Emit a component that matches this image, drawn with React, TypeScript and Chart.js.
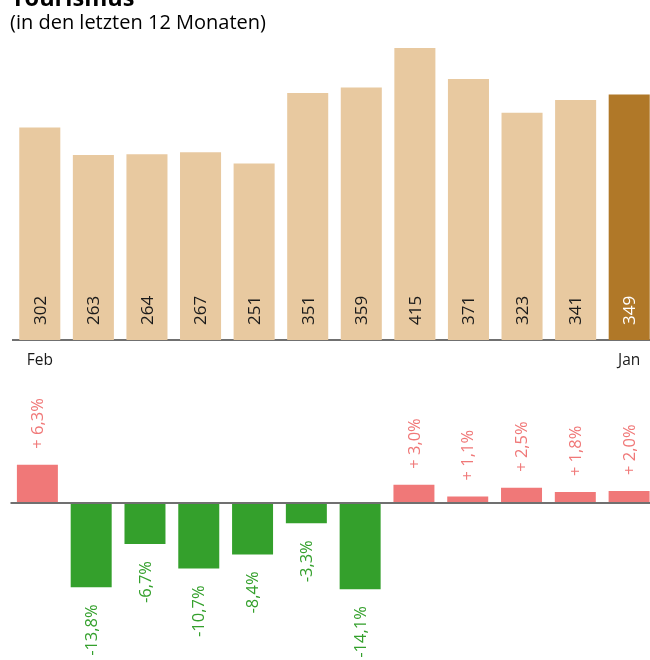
import React, { useEffect, useRef } from "react";
import { Chart, registerables } from "chart.js";

Chart.register(...registerables);

const title = "Tourismus";
const subtitle = "(in den letzten 12 Monaten)";
const months = ["Feb", "Mär", "Apr", "Mai", "Jun", "Jul", "Aug", "Sep", "Okt", "Nov", "Dez", "Jan"];
const visits = [302, 263, 264, 267, 251, 351, 359, 415, 371, 323, 341, 349];
const changes = [6.3, -13.8, -6.7, -10.7, -8.4, -3.3, -14.1, 3.0, 1.1, 2.5, 1.8, 2.0];

const FONT = "'Open Sans', 'DejaVu Sans', sans-serif";
const LIGHT = "#E8C9A0";
const DARK = "#B07828";
const RED = "#F07878";
const GREEN = "#34A02C";
const AXIS = "#707070";

const fmtPct = (v: number) =>
  (v > 0 ? "+ " : "") + v.toFixed(1).replace(".", ",") + "%";

const titlePlugin = {
  id: "titleText",
  afterDraw(chart: any) {
    const ctx = chart.ctx;
    ctx.save();
    ctx.fillStyle = "#000";
    ctx.textAlign = "left";
    ctx.textBaseline = "alphabetic";
    ctx.font = `bold 23.5px ${FONT}`;
    ctx.fillText(title, 11, 6);
    ctx.font = `20px ${FONT}`;
    ctx.fillText(subtitle, 10, 29);
    ctx.restore();
  },
};

const topLabels = {
  id: "topLabels",
  afterDatasetsDraw(chart: any) {
    const ctx = chart.ctx;
    const meta = chart.getDatasetMeta(0);
    ctx.save();
    ctx.font = `17px ${FONT}`;
    ctx.textAlign = "left";
    ctx.textBaseline = "middle";
    meta.data.forEach((bar: any, i: number) => {
      ctx.save();
      ctx.translate(bar.x, bar.base - 15);
      ctx.rotate(-Math.PI / 2);
      ctx.fillStyle = i === visits.length - 1 ? "#ffffff" : "#1a1a1a";
      ctx.fillText(String(visits[i]), 0, 1);
      ctx.restore();
    });
    ctx.restore();
  },
};

const bottomLabels = {
  id: "bottomLabels",
  afterDatasetsDraw(chart: any) {
    const ctx = chart.ctx;
    const meta = chart.getDatasetMeta(0);
    const ys = chart.scales.y;
    const zero = ys.getPixelForValue(0);
    ctx.save();
    ctx.strokeStyle = AXIS;
    ctx.lineWidth = 2;
    ctx.beginPath();
    ctx.moveTo(chart.chartArea.left, zero);
    ctx.lineTo(chart.chartArea.right, zero);
    ctx.stroke();
    ctx.font = `16.5px ${FONT}`;
    ctx.textBaseline = "middle";
    meta.data.forEach((bar: any, i: number) => {
      const v = changes[i];
      ctx.save();
      if (v >= 0) {
        ctx.translate(bar.x, bar.y - 16);
        ctx.rotate(-Math.PI / 2);
        ctx.textAlign = "left";
        ctx.fillStyle = RED;
      } else {
        ctx.translate(bar.x, bar.y + 17);
        ctx.rotate(-Math.PI / 2);
        ctx.textAlign = "right";
        ctx.fillStyle = GREEN;
      }
      ctx.fillText(fmtPct(v), 0, 1);
      ctx.restore();
    });
    ctx.restore();
  },
};

export default function App() {
  const topRef = useRef<HTMLCanvasElement>(null);
  const botRef = useRef<HTMLCanvasElement>(null);

  useEffect(() => {
    const c1 = new Chart(topRef.current!, {
      type: "bar",
      data: {
        labels: months,
        datasets: [
          {
            data: visits,
            backgroundColor: visits.map((_, i) => (i === visits.length - 1 ? DARK : LIGHT)),
            barPercentage: 0.766,
            categoryPercentage: 1,
          },
        ],
      },
      options: {
        animation: false,
        responsive: false,
        maintainAspectRatio: false,
        layout: { padding: { top: 48, left: 13, right: 0, bottom: 0 } },
        plugins: { legend: { display: false }, tooltip: { enabled: false }, title: { display: false } },
        scales: {
          x: {
            offset: true,
            grid: { display: false },
            border: { display: true, color: AXIS, width: 2 },
            afterFit: (s: any) => {
              s.height = 35;
            },
            ticks: {
              autoSkip: false,
              maxRotation: 0,
              padding: 3,
              color: "#1a1a1a",
              font: { family: FONT, size: 15.5 },
              callback: (_v: any, i: number) => (i === 0 || i === months.length - 1 ? months[i] : ""),
            },
          },
          y: { display: false, min: 0, max: 415 },
        },
      },
      plugins: [titlePlugin, topLabels],
    });

    const c2 = new Chart(botRef.current!, {
      type: "bar",
      data: {
        labels: months,
        datasets: [
          {
            data: changes,
            backgroundColor: changes.map((v) => (v >= 0 ? RED : GREEN)),
            barPercentage: 0.762,
            categoryPercentage: 1,
          },
        ],
      },
      options: {
        animation: false,
        responsive: false,
        maintainAspectRatio: false,
        layout: { padding: { top: 0, left: 10.5, right: 0, bottom: 0 } },
        plugins: { legend: { display: false }, tooltip: { enabled: false }, title: { display: false } },
        scales: {
          x: { display: false, offset: true },
          y: { display: false, min: -25.7, max: 21.8 },
        },
      },
      plugins: [bottomLabels],
    });

    return () => {
      c1.destroy();
      c2.destroy();
    };
  }, []);

  return (
    <div
      style={{
        position: "absolute",
        left: 0,
        top: 0,
        width: 650,
        height: 660,
        overflow: "hidden",
        background: "#fff",
      }}
    >
      <canvas
        ref={topRef}
        width={656}
        height={375}
        style={{ position: "absolute", left: 0, top: 0, width: 656, height: 375 }}
      />
      <canvas
        ref={botRef}
        width={656}
        height={290}
        style={{ position: "absolute", left: 0, top: 370, width: 656, height: 290 }}
      />
    </div>
  );
}
